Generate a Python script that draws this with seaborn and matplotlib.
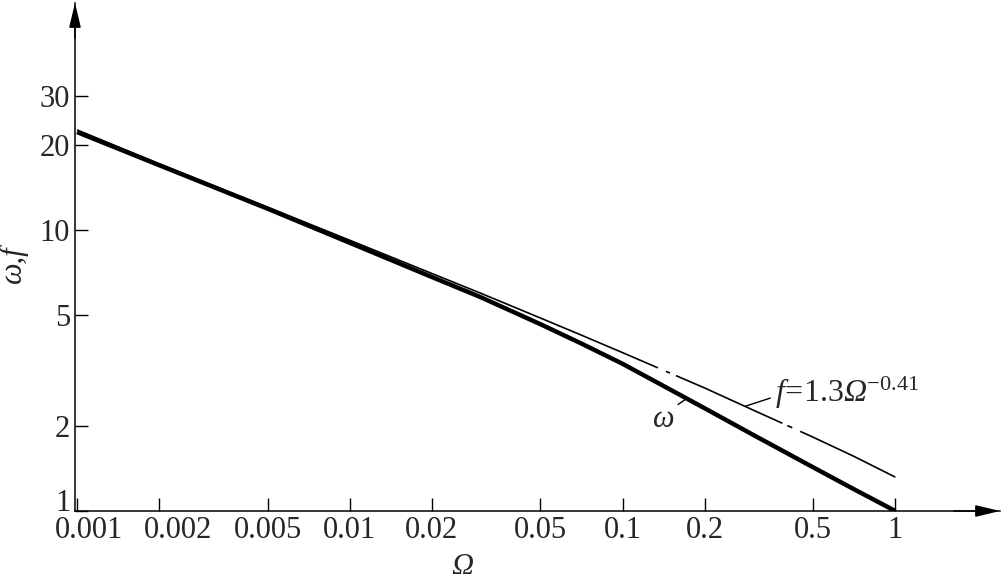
import numpy as np
import pandas as pd
import matplotlib
matplotlib.use("Agg")
import matplotlib.pyplot as plt
from matplotlib.transforms import ScaledTranslation
import seaborn as sns

################################################
# Data
################################################
omega_x = [0.001, 0.002, 0.005, 0.01, 0.02, 0.03, 0.05, 0.07, 0.1, 0.15, 0.2, 0.3, 0.5, 0.7, 1]
omega_vals = [22.3, 17.0, 11.9, 9.0, 6.8, 5.78, 4.62, 3.96, 3.34, 2.70, 2.32, 1.87, 1.43, 1.20, 1.0]
f_vals = [22.7, 17.2, 12.05, 9.19, 7.00, 5.97, 4.86, 4.24, 3.66, 3.09, 2.74, 2.29, 1.83, 1.57, 1.32]

x_ticks = [0.001, 0.002, 0.005, 0.01, 0.02, 0.05, 0.1, 0.2, 0.5, 1]
x_tick_labels = ["0.001", "0.002", "0.005", "0.01", "0.02", "0.05", "0.1", "0.2", "0.5", "1"]
y_ticks = [1, 2, 5, 10, 20, 30]
y_tick_labels = ["1", "2", "5", "10", "20", "30"]

# annotation anchors (data coords)
OMEGA_LABEL_POS = (0.142, 2.11)
OMEGA_LEADER = (0.1725, 2.52)
F_LABEL_POS = (0.362, 2.63)
F_LEADER = (0.282, 2.36)

################################################
# Style
################################################
sns.set_theme(style="ticks")
plt.rcParams['font.family'] = ['Liberation Serif', 'DejaVu Serif']
plt.rcParams['mathtext.fontset'] = 'custom'
plt.rcParams['mathtext.rm'] = 'Liberation Serif'
plt.rcParams['mathtext.it'] = 'Liberation Serif:italic'
plt.rcParams['mathtext.cal'] = 'Liberation Serif:italic'
plt.rcParams['lines.scale_dashes'] = False

df = pd.DataFrame({'Omega': omega_x, 'omega': omega_vals, 'f': f_vals})

fig = plt.figure(figsize=(10.02, 5.74), dpi=100)
ax = fig.add_axes([75 / 1002, 63 / 574, 925 / 1002, 508 / 574])

sns.lineplot(x='Omega', y='omega', data=df, color='black', lw=3.2,
             estimator=None, ax=ax, solid_capstyle='butt')
sns.lineplot(x='Omega', y='f', data=df, color='black', lw=1.2,
             estimator=None, ax=ax,
             linestyle=(0, (452, 6.3, 3.1, 4.7, 84, 3.9, 3.9, 6.3, 400, 10)),
             dash_capstyle='butt')

ax.set_xscale('log')
ax.set_yscale('log')
ax.set_xlim(0.000983, 2.42)
ax.set_ylim(1, 64.2)

ax.set_xticks(x_ticks, x_tick_labels)
ax.set_yticks(y_ticks, y_tick_labels)
ax.xaxis.set_minor_locator(matplotlib.ticker.NullLocator())
ax.yaxis.set_minor_locator(matplotlib.ticker.NullLocator())
ax.tick_params(direction='in', length=9.4, width=1.0, labelsize=22, pad=3.5, color='black')

# nudge labels near the corner, as in the original
for lab, dx in zip(ax.get_xticklabels()[:2], [12, 19]):
    lab.set_transform(lab.get_transform() + ScaledTranslation(dx / 100, 0, fig.dpi_scale_trans))
lab1 = ax.get_yticklabels()[0]
lab1.set_transform(lab1.get_transform() + ScaledTranslation(0, 11 / 100, fig.dpi_scale_trans))

sns.despine(ax=ax)
for side in ['left', 'bottom']:
    ax.spines[side].set_color('black')
    ax.spines[side].set_linewidth(1.1)

# axis arrows
arrow = dict(arrowstyle='-|>,head_length=0.75,head_width=0.18', color='black',
             lw=1.1, shrinkA=0, shrinkB=0, mutation_scale=20)
ax.annotate('', xy=(1, 0), xytext=(0.95, 0), xycoords='axes fraction', arrowprops=arrow)
ax.annotate('', xy=(0, 1), xytext=(0, 0.93), xycoords='axes fraction', arrowprops=arrow)

ax.set_xlabel('Ω', fontsize=22, style='italic')
ax.xaxis.set_label_coords((462 - 75) / 925, -0.083)
ax.set_ylabel('ω,f', fontsize=22, style='italic')
ax.yaxis.set_label_coords(-0.051, 0.486)

# curve labels
ax.annotate('ω', xy=OMEGA_LEADER, xytext=OMEGA_LABEL_POS, fontsize=22, style='italic',
            ha='center', va='center',
            arrowprops=dict(arrowstyle='-', color='black', lw=1.0, shrinkA=0, shrinkB=0,
                            relpos=(0.8, 0.85)))
ax.annotate(r'$\mathit{f}\!\mathrm{=}\!\mathrm{1.3}\mathcal{\Omega}^{\mathrm{-0.41}}$', xy=F_LEADER,
            xytext=F_LABEL_POS, fontsize=23, ha='left', va='center',
            arrowprops=dict(arrowstyle='-', color='black', lw=1.0, shrinkA=1, shrinkB=0,
                            relpos=(0, 0.4)))

fig.savefig('out.png', dpi=100)
